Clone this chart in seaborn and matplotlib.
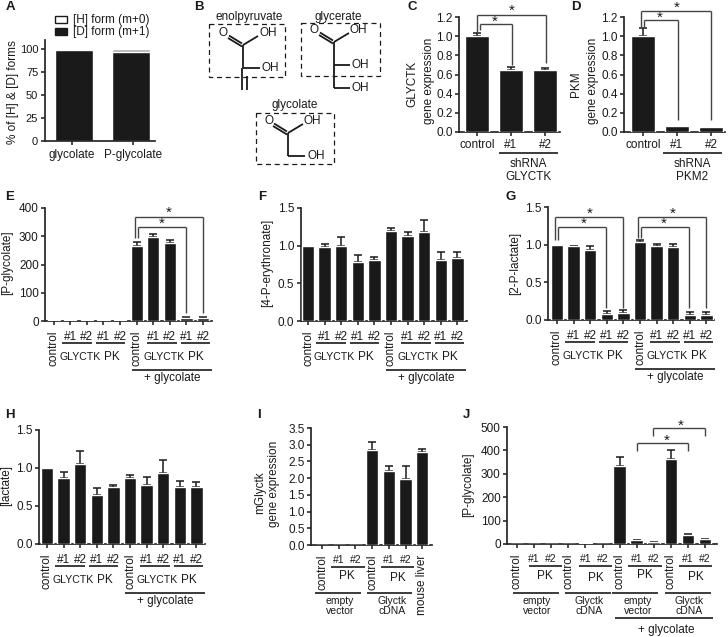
import matplotlib
matplotlib.use('Agg')
import matplotlib.pyplot as plt
from matplotlib.patches import Rectangle
import seaborn as sns

INK = '#1a1a1a'
FS = 8.5

# данные панелей
a_names = ['glycolate', 'P-glycolate']
a_d_form = [99.5, 97]
a_total = [100, 100]

c_names = ['control', '#1', '#2']
c_vals = [1.0, 0.65, 0.65]
c_errs = [0.03, 0.03, 0.02]

d_names = ['control', '#1', '#2']
d_vals = [1.0, 0.06, 0.055]
d_errs = [0.09, 0.0, 0.0]

long_names = ['control', '#1', '#2', '#1', '#2'] * 2

e_vals = [2, 2, 2.5, 2.5, 2, 267, 299, 277, 12, 11]
e_errs = [0, 0, 0, 0, 0, 14, 9, 8, 1.5, 1.5]

f_vals = [1.0, 0.98, 1.0, 0.78, 0.81, 1.2, 1.13, 1.18, 0.81, 0.83]
f_errs = [0.0, 0.04, 0.11, 0.10, 0.04, 0.03, 0.05, 0.16, 0.10, 0.08]

g_vals = [1.0, 0.98, 0.93, 0.08, 0.09, 1.03, 0.98, 0.97, 0.07, 0.07]
g_errs = [0.0, 0.005, 0.05, 0.04, 0.04, 0.03, 0.03, 0.04, 0.04, 0.04]

h_vals = [1.0, 0.87, 1.05, 0.65, 0.75, 0.87, 0.78, 0.93, 0.75, 0.75]
h_errs = [0.0, 0.08, 0.18, 0.09, 0.03, 0.04, 0.10, 0.17, 0.08, 0.07]

i_names = ['control', '#1', '#2', 'control', '#1', '#2', 'mouse liver']
i_vals = [0.01, 0.01, 0.01, 2.83, 2.2, 1.97, 2.78]
i_errs = [0, 0, 0, 0.25, 0.17, 0.4, 0.08]

j_names = ['control', '#1', '#2'] * 4
j_vals = [1, 1, 1, 2, 3, 2, 335, 17, 8, 362, 40, 20]
j_errs = [0, 0, 0, 0, 0, 0, 36, 1, 1, 38, 3, 1]

sns.set_style('ticks')
plt.rcParams['font.family'] = ['Liberation Sans', 'DejaVu Sans']
plt.rcParams['axes.linewidth'] = 1.25
plt.rcParams['text.color'] = INK
plt.rcParams['axes.labelcolor'] = INK
plt.rcParams['xtick.color'] = INK
plt.rcParams['ytick.color'] = INK

fig = plt.figure(figsize=(7.28, 6.37), dpi=100)

over = fig.add_axes([0, 0, 1, 1], zorder=10)
over.set_xlim(0, 728)
over.set_ylim(637, 0)
over.axis('off')


def make_axes(x0, x1, ytop, ybot, ymax, first, step, yticks, names, small=None, fmt=None, rotate=True, pad=4):
    ax = fig.add_axes([x0 / 728, 1 - ybot / 637, (x1 - x0) / 728, (ybot - ytop) / 637])
    ax.set_xlim((x0 - first) / step, (x1 - first) / step)
    ax.set_ylim(0, ymax)
    sns.despine(ax=ax)
    ax.set_yticks(yticks)
    if fmt:
        ax.set_yticklabels([fmt % t for t in yticks])
    ax.set_xticks(range(len(names)))
    ax.set_xticklabels(names)
    ax.tick_params(axis='both', labelsize=FS, length=3, width=1.1, pad=1.5)
    ax.tick_params(axis='x', pad=pad)
    for lab in ax.get_xticklabels():
        if rotate and lab.get_text() in ('control', 'mouse liver'):
            lab.set_rotation(90)
            lab.set_va('top')
        elif small:
            lab.set_fontsize(small)
    return ax


def bars(ax, vals, errs, width=0.74):
    # seaborn сбрасывает подписи и пределы, поэтому запоминаем их
    xlim = ax.get_xlim()
    ticks = ax.get_xticks()
    labels = [(t.get_text(), t.get_rotation(), t.get_fontsize()) for t in ax.get_xticklabels()]
    idx = list(range(len(vals)))
    with_err = [i for i in idx if errs[i] > 0]
    ax.errorbar(with_err, [vals[i] for i in with_err], yerr=[[0] * len(with_err), [errs[i] for i in with_err]],
                fmt='none', ecolor=INK, elinewidth=1.1, capsize=2.8, capthick=1.1, zorder=1)
    sns.barplot(x=idx, y=vals, color=INK, saturation=1, width=width, errorbar=None, ax=ax, zorder=3)
    ax.set_xlim(xlim)
    ax.set_xticks(ticks)
    ax.set_xticklabels([l[0] for l in labels])
    for t, l in zip(ax.get_xticklabels(), labels):
        t.set_rotation(l[1])
        t.set_fontsize(l[2])
        t.set_va('top')
    ax.set_xlabel('')


def line(x0, y0, x1, y1, lw=1.1, color=INK, ls='-'):
    over.plot([x0, x1], [y0, y1], color=color, lw=lw, ls=ls, solid_capstyle='butt')


def text(x, y, s, size=FS, **kw):
    kw.setdefault('ha', 'center')
    kw.setdefault('va', 'center')
    over.text(x, y, s, fontsize=size, **kw)


def bracket(x0, y0, x1, y1, ytop, star, color=INK):
    line(x0, y0, x0, ytop, color=color, lw=1)
    line(x0, ytop, x1, ytop, color=color, lw=1)
    line(x1, ytop, x1, y1, color=color, lw=1)
    text(star[0], star[1] + 1.5, '*', size=11)


def ylabel(x, y, s):
    text(x, y, s, rotation=90)


def glyctk_groups(dx, dy):
    for off, gx, px in [(0, 80, 112), (85, 164, 196)]:
        line(62 + dx + off, 343 + dy, 92 + dx + off, 343 + dy, lw=1.2)
        line(96 + dx + off, 343 + dy, 125 + dx + off, 343 + dy, lw=1.2)
        text(gx + dx, 357 + dy, 'GLYCTK', size=7.6)
        text(px + dx, 357 + dy, 'PK')
    line(132 + dx, 370 + dy, 212 + dx, 370 + dy, lw=1.2)
    text(172 + dx, 378 + dy, '+ glycolate')


# A
ax_a = make_axes(44.5, 155, 40, 141, 110, 74, 57, [0, 25, 50, 75, 100], a_names, rotate=False)
xlim_a = ax_a.get_xlim()
sns.barplot(x=a_names, y=a_total, color='#b0b0b0', saturation=1, width=0.67, errorbar=None, ax=ax_a)
sns.barplot(x=a_names, y=a_d_form, color=INK, saturation=1, width=0.67, errorbar=None, ax=ax_a)
ax_a.set_xlim(xlim_a)
ax_a.set_xlabel('')
ax_a.tick_params(axis='x', pad=3)
ax_a.tick_params(axis='y', labelsize=8)
ax_a.set_xticks([-0.035, 1.035])
ax_a.set_xticklabels(a_names)
ylabel(13, 92, '% of [H] & [D] forms')
over.add_patch(Rectangle((55, 16), 12, 7, fc='white', ec=INK, lw=1))
over.add_patch(Rectangle((55, 28), 12, 7, fc=INK, ec=INK, lw=1))
text(73, 19.5, '[H] form (m+0)', ha='left')
text(73, 31.5, '[D] form (m+1)', ha='left')

# B
for x0, y0, x1, y1 in [(209, 24, 285, 77), (301, 23, 380, 76), (256, 113, 334, 164)]:
    over.add_patch(Rectangle((x0, y0), x1 - x0, y1 - y0, fc='none', ec=INK, lw=0.9, ls=(0, (4, 3))))
text(249, 17, 'enolpyruvate')
text(338, 17, 'glycerate')
text(295, 105, 'glycolate')


def carboxyl(cx, cy, ox, hx):
    text(ox, cy - 12, 'O')
    text(hx, cy - 12, 'OH', ha='left')
    line(cx, cy, cx + 15, cy - 9, lw=1.3)
    line(cx - 1, cy - 1.5, cx - 14, cy - 9.5, lw=1.3)
    line(cx - 1, cy + 1.5, cx - 15, cy - 7, lw=1.3)


carboxyl(243, 45, 223, 259)
line(243, 45, 243, 68, lw=1.3)
line(243, 68, 260, 68, lw=1.3)
text(262, 68, 'OH', ha='left')
line(242, 68, 242, 90, lw=1.3)
line(247, 76, 247, 90, lw=1.3)

carboxyl(334, 42, 314, 350)
line(334, 42, 334, 88, lw=1.3)
line(334, 65, 350, 65, lw=1.3)
line(334, 88, 350, 88, lw=1.3)
text(352, 65, 'OH', ha='left')
text(352, 88, 'OH', ha='left')

carboxyl(288, 133, 269, 304)
line(288, 133, 288, 156, lw=1.3)
line(288, 156, 305, 156, lw=1.3)
text(307, 156, 'OH', ha='left')

# C
ax_c = make_axes(459, 560, 17, 132, 1.2, 477, 34, [0, 0.2, 0.4, 0.6, 0.8, 1.0, 1.2], c_names, fmt='%.1f', rotate=False, pad=2)
bars(ax_c, c_vals, c_errs, width=0.71)
ylabel(412, 84, 'GLYCTK')
ylabel(429, 81, 'gene expression')
bracket(480, 30, 512, 65, 24, (495, 20), color='#444444')
bracket(477, 33, 546, 63, 15, (512, 9), color='#444444')
line(499, 153, 558, 153, lw=1.2)
text(528, 164, 'shRNA')
text(528, 177, 'GLYCTK')

# D
ax_d = make_axes(624, 725, 17, 132, 1.2, 643, 34, [0, 0.2, 0.4, 0.6, 0.8, 1.0, 1.2], d_names, fmt='%.1f', rotate=False, pad=2)
bars(ax_d, d_vals, d_errs, width=0.71)
ylabel(576, 84, 'PKM')
ylabel(593, 81, 'gene expression')
bracket(644, 27, 678, 120, 20, (660, 16), color='#444444')
bracket(641, 27, 711, 120, 11, (677, 6), color='#444444')
line(663, 153, 722, 153, lw=1.2)
text(692, 164, 'shRNA')
text(692, 177, 'PKM2')

# E
ax_e = make_axes(45, 212, 208, 321, 400, 53.7, 16.6, [0, 100, 200, 300, 400], long_names)
bars(ax_e, e_vals, e_errs)
ylabel(7, 263, '[P-glycolate]')
bracket(138, 238, 186, 313, 227, (162, 222), color='#444444')
bracket(135, 238, 203, 313, 217, (169, 211), color='#444444')
glyctk_groups(0, 0)

# F
ax_f = make_axes(300.7, 467, 208, 321, 1.5, 308, 16.6, [0, 0.5, 1.0, 1.5], long_names, fmt='%.1f')
bars(ax_f, f_vals, f_errs)
ylabel(267, 263, '[4-P-erythronate]')
glyctk_groups(254.3, 0)

# G
ax_g = make_axes(548, 714, 207, 320, 1.5, 557, 16.6, [0, 0.5, 1.0, 1.5], long_names, fmt='%.1f')
bars(ax_g, g_vals, g_errs)
ylabel(515, 263, '[2-P-lactate]')
bracket(558, 240, 606, 308, 227, (584, 222), color='#444444')
bracket(555, 240, 623, 308, 217, (590, 212), color='#444444')
bracket(641, 238, 689, 308, 227, (664, 222), color='#444444')
bracket(638, 238, 706, 308, 217, (673, 212), color='#444444')
glyctk_groups(503.3, -1)

# H
ax_h = make_axes(39, 205, 430, 544, 1.5, 47, 16.6, [0, 0.5, 1.0, 1.5], long_names, fmt='%.1f')
bars(ax_h, h_vals, h_errs)
ylabel(6, 485, '[lactate]')
glyctk_groups(-6.7, 223)

# I
ax_i = make_axes(311, 432, 428, 545, 3.5, 322, 16.7, [0, 0.5, 1.0, 1.5, 2.0, 2.5, 3.0, 3.5], i_names, small=7.5, fmt='%.1f')
bars(ax_i, i_vals, i_errs)
ylabel(260, 493, 'mGlyctk')
ylabel(274, 484, 'gene expression')
line(331, 567, 365, 567, lw=1.2)
line(381, 567, 414, 567, lw=1.2)
line(315, 593, 361, 593, lw=1.2)
line(367, 593, 412, 593, lw=1.2)
text(347, 576, 'PK')
text(398, 578, 'PK')
text(340, 601.5, 'empty', size=7.5)
text(340, 611, 'vector', size=7.5)
text(392, 601, 'Glyctk', size=7.5)
text(392, 611, 'cDNA', size=7.5)

# J
ax_j = make_axes(507, 717, 427, 544, 500, 517, 17.1, [0, 100, 200, 300, 400, 500], j_names, small=7.5)
bars(ax_j, j_vals, j_errs)
ylabel(468, 485, '[P-glycolate]')
bracket(637, 451, 688, 451, 443, (667, 439), color='#444444')
bracket(653, 436, 705, 436, 428, (681, 424), color='#444444')
for x0, x1, px, py in [(529, 562, 545, 576), (579, 612, 596, 578), (628, 662, 645, 575), (679, 712, 696, 577)]:
    line(x0, 566, x1, 566, lw=1.2)
    text(px, py, 'PK')
for x0, x1 in [(513, 559), (565, 611), (612, 658), (665, 711)]:
    line(x0, 593, x1, 593, lw=1.2)
for cx, top, bottom in [(537, 'empty', 'vector'), (589, 'Glyctk', 'cDNA'), (638, 'empty', 'vector'), (689, 'Glyctk', 'cDNA')]:
    text(cx, 601, top, size=7.5)
    text(cx, 611, bottom, size=7.5)
line(615, 618, 713, 618, lw=1.2)
text(666, 630, '+ glycolate')

# буквы панелей
for s, x, y in [('A', 10, 7), ('B', 199, 7), ('C', 412, 7), ('D', 576, 7), ('E', 10, 197),
                ('F', 262, 197), ('G', 511, 197), ('H', 10, 415), ('I', 259, 415), ('J', 466, 415)]:
    text(x, y, s, size=9.5, fontweight='bold')

fig.savefig('out.png', dpi=100)
